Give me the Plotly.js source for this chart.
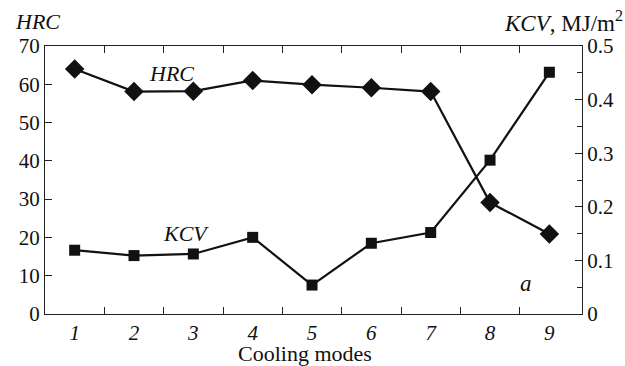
<!DOCTYPE html>
<html><head><meta charset="utf-8">
<script src="https://cdn.plot.ly/plotly-3.0.1.min.js"></script>
<style>html,body{margin:0;padding:0;background:#fff}#c{width:625px;height:366px}</style>
</head><body><div id="c"></div>
<script>
const modes = [1,2,3,4,5,6,7,8,9];
const modeLabels = ['1','2','3','4','5','6','7','8','9'];
const hrc = [64.0, 58.1, 58.2, 61.0, 59.9, 59.1, 58.1, 29.1, 20.9];
const kcv = [0.119, 0.109, 0.112, 0.143, 0.054, 0.132, 0.152, 0.287, 0.451];
const hrcTicks = [0,10,20,30,40,50,60,70];
const kcvTicks = [0,0.1,0.2,0.3,0.4,0.5];
const kcvTickText = ['0','0.1','0.2','0.3','0.4','0.5'];
const gapTicks = modes.slice(0,-1).map(m => m + 0.5);

const serif = 'Liberation Serif';
const ink = '#111';
const traces = [
  {x: modes, y: hrc, xaxis:'x', yaxis:'y', mode:'lines+markers', type:'scatter',
   line:{color:ink, width:2.2}, marker:{symbol:'diamond', size:15, color:ink}},
  {x: modes, y: kcv, xaxis:'x2', yaxis:'y2', mode:'lines+markers', type:'scatter',
   line:{color:ink, width:2.2}, marker:{symbol:'square', size:11, color:ink}}
];
const layout = {
  width:625, height:366, showlegend:false,
  margin:{l:45, r:43, t:46, b:52},
  paper_bgcolor:'#fff', plot_bgcolor:'#fff',
  font:{family:serif, size:21, color:ink},
  xaxis:{range:[0.5,9.55], tickmode:'array', tickvals:modes, ticktext:modeLabels, ticks:'',
    showline:true, linecolor:'#222', linewidth:1, mirror:true, showgrid:false, zeroline:false,
    tickfont:{family:serif, size:21, style:'italic', color:ink}},
  xaxis2:{overlaying:'x', anchor:'y2', side:'bottom', range:[0.5,9.55], tickmode:'array', tickvals:gapTicks,
    ticks:'inside', ticklen:7, tickcolor:'#222', showticklabels:false, showline:false,
    mirror:'ticks', showgrid:false, zeroline:false},
  yaxis:{range:[0,70], tickmode:'array', tickvals:hrcTicks, ticks:'inside', ticklen:7, tickcolor:'#222',
    showline:true, linecolor:'#222', linewidth:1, showgrid:false, zeroline:false,
    tickfont:{family:serif, size:21, color:ink}},
  yaxis2:{overlaying:'y', anchor:'x2', side:'right', range:[0,0.5], tickmode:'array', tickvals:kcvTicks, ticktext:kcvTickText,
    ticks:'inside', ticklen:7, tickcolor:'#222', showline:true, linecolor:'#222', linewidth:1,
    showgrid:false, zeroline:false, minor:{dtick:0.05, ticks:'inside', ticklen:5, tickcolor:'#222'},
    tickfont:{family:serif, size:21, color:ink}},
  annotations:[
    {text:'Cooling modes', xref:'paper', yref:'paper', x:0.484, y:-0.148, xanchor:'center', yanchor:'middle',
     showarrow:false, font:{family:serif, size:22, color:ink}},
    {text:'HRC', xref:'paper', yref:'paper', x:-0.06, y:1.09, xanchor:'left', yanchor:'middle',
     showarrow:false, font:{family:serif, size:22, style:'italic', color:ink}},
    {text:'<i>KCV</i>, MJ/m<sup>2</sup>', xref:'paper', yref:'paper', x:1.08, y:1.09, xanchor:'right', yanchor:'middle',
     showarrow:false, font:{family:serif, size:23, color:ink}},
    {text:'HRC', xref:'paper', yref:'paper', x:0.2356, y:0.899, xanchor:'center', yanchor:'middle',
     showarrow:false, font:{family:serif, size:22, style:'italic', color:ink}},
    {text:'KCV', xref:'paper', yref:'paper', x:0.2626, y:0.301, xanchor:'center', yanchor:'middle',
     showarrow:false, font:{family:serif, size:22, style:'italic', color:ink}},
    {text:'a', xref:'paper', yref:'paper', x:0.896, y:0.114, xanchor:'center', yanchor:'middle',
     showarrow:false, font:{family:serif, size:23, style:'italic', color:ink}}
  ]
};
Plotly.newPlot('c', traces, layout, {displayModeBar:false, staticPlot:true});
</script></body></html>
